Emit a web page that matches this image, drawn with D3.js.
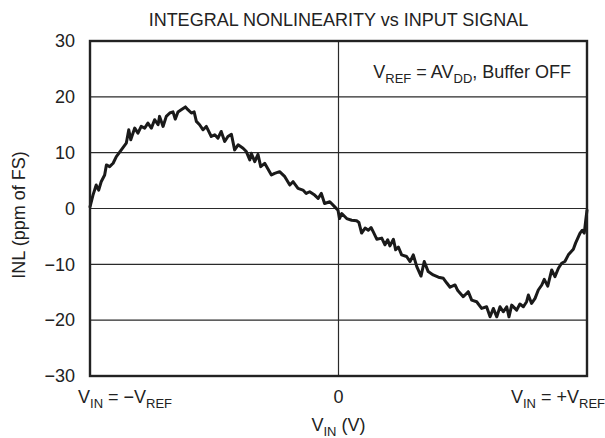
<!DOCTYPE html>
<html>
<head>
<meta charset="utf-8">
<script src="https://cdn.jsdelivr.net/npm/d3@7"></script>
<style>
  html, body { margin: 0; padding: 0; background: #fff; }
  svg { display: block; font-family: "Liberation Sans", Arial, Helvetica, sans-serif; }
</style>
</head>
<body>
<svg id="chart" width="605" height="438"></svg>
<script>
// ---- data (x: normalized input, -1 = -VREF, +1 = +VREF; y: INL in ppm of FS) ----
const xValues = [
  -1.000, -0.988, -0.975, -0.965, -0.955, -0.941, -0.934, -0.921, -0.907, -0.894,
  -0.874, -0.854, -0.844, -0.836, -0.820, -0.807, -0.794, -0.780, -0.767, -0.753,
  -0.740, -0.726, -0.720, -0.706, -0.693, -0.679, -0.666, -0.657, -0.646, -0.633,
  -0.616, -0.606, -0.592, -0.581, -0.572, -0.559, -0.545, -0.532, -0.512, -0.498,
  -0.485, -0.472, -0.458, -0.445, -0.431, -0.418, -0.404, -0.384, -0.371, -0.357,
  -0.351, -0.337, -0.324, -0.313, -0.297, -0.270, -0.257, -0.237, -0.216, -0.196,
  -0.183, -0.163, -0.143, -0.130, -0.116, -0.096, -0.082, -0.069, -0.056, -0.035,
  -0.015, -0.002, 0.004, 0.013, 0.033, 0.053, 0.073, 0.082, 0.093, 0.107,
  0.120, 0.131, 0.140, 0.154, 0.174, 0.187, 0.198, 0.207, 0.221, 0.230,
  0.241, 0.254, 0.274, 0.288, 0.301, 0.315, 0.332, 0.345, 0.361, 0.381,
  0.402, 0.422, 0.435, 0.449, 0.469, 0.480, 0.502, 0.522, 0.536, 0.556,
  0.576, 0.596, 0.610, 0.623, 0.637, 0.650, 0.663, 0.677, 0.686, 0.697,
  0.717, 0.730, 0.744, 0.757, 0.764, 0.777, 0.791, 0.804, 0.818, 0.828,
  0.842, 0.858, 0.871, 0.885, 0.898, 0.911, 0.925, 0.945, 0.954, 0.972,
  0.981, 0.989, 0.995, 1.000
];
const inlValues = [
  0.3, 2.4, 4.2, 3.3, 4.8, 6.0, 7.8, 7.5, 8.1, 9.3,
  10.5, 11.7, 14.1, 12.3, 14.4, 13.5, 14.7, 14.4, 15.3, 14.4,
  15.9, 15.0, 16.5, 14.7, 16.5, 17.1, 17.3, 16.0, 17.3, 17.7,
  18.2, 17.7, 17.1, 17.3, 15.6, 15.0, 14.1, 14.7, 12.9, 13.2,
  12.6, 13.8, 12.0, 12.9, 13.3, 10.5, 11.4, 10.8, 10.2, 8.7,
  9.9, 8.4, 9.7, 7.5, 8.1, 6.0, 6.3, 6.6, 5.7, 4.2,
  4.8, 3.6, 3.3, 2.7, 3.0, 2.4, 1.8, 2.7, 0.9, 1.2,
  0.3, -0.3, -1.8, -0.9, -1.8, -2.1, -2.2, -2.5, -4.4, -3.5,
  -3.9, -3.4, -4.2, -5.5, -5.3, -6.5, -5.6, -6.7, -5.5, -7.4,
  -6.9, -8.3, -8.6, -9.5, -8.3, -10.4, -12.1, -9.5, -11.3, -11.9,
  -12.3, -12.5, -13.3, -14.1, -13.7, -14.7, -15.8, -14.9, -16.4, -16.7,
  -17.9, -17.6, -19.4, -17.9, -19.4, -17.6, -18.5, -17.6, -19.4, -17.3,
  -18.2, -17.1, -17.6, -16.7, -15.5, -17.0, -16.1, -14.6, -13.7, -12.7,
  -13.9, -11.0, -12.2, -10.7, -9.8, -9.5, -8.3, -7.3, -6.2, -4.4,
  -3.9, -4.4, -2.1, -0.3
];
const yTicks = [-30, -20, -10, 0, 10, 20, 30];
const xTickLabels = [
  { v: -1, main: "V", sub: "IN", rest: " = \u2212V", sub2: "REF" },
  { v: 0, main: "0" },
  { v: 1, main: "V", sub: "IN", rest: " = +V", sub2: "REF" }
];
const titleText = "INTEGRAL NONLINEARITY vs INPUT SIGNAL";
const yTitle = "INL (ppm of FS)";

// ---- layout ----
const FS = 18, SUB = 13;
const svg = d3.select("#chart");
const L = 90, R = 587, T = 41, B = 376;
const x = d3.scaleLinear().domain([-1, 1]).range([L, R]);
const y = d3.scaleLinear().domain([-30, 30]).range([B, T]);

// grid lines
svg.append("g").selectAll("line").data(yTicks.filter(d => d > -30 && d < 30)).join("line")
  .attr("x1", L).attr("x2", R)
  .attr("y1", d => y(d)).attr("y2", d => y(d))
  .attr("stroke", "#2a2a2a").attr("stroke-width", 1.2);
svg.append("line")
  .attr("x1", x(0)).attr("x2", x(0)).attr("y1", T).attr("y2", B)
  .attr("stroke", "#2a2a2a").attr("stroke-width", 1.2);

// data line
const pts = xValues.map((d, i) => [d, inlValues[i]]);
svg.append("path").datum(pts)
  .attr("fill", "none").attr("stroke", "#1a1a1a").attr("stroke-width", 3)
  .attr("stroke-linejoin", "round").attr("stroke-linecap", "round")
  .attr("d", d3.line().x(d => x(d[0])).y(d => y(d[1])));

// frame
svg.append("rect").attr("x", L).attr("y", T).attr("width", R - L).attr("height", B - T)
  .attr("fill", "none").attr("stroke", "#222").attr("stroke-width", 2.4);

// y axis tick labels
const yAxis = d3.axisLeft(y).tickValues(yTicks).tickSize(0).tickPadding(15)
  .tickFormat(d => d < 0 ? "\u2212" + Math.abs(d) : d);
const ya = svg.append("g").attr("transform", `translate(${L},0)`).call(yAxis);
ya.select(".domain").remove();
ya.selectAll("text").attr("font-size", FS).attr("fill", "#222")
  .attr("font-family", "Liberation Sans, Arial, sans-serif");

// x tick labels
const xl = svg.append("g").attr("font-size", FS).attr("fill", "#222");
xTickLabels.forEach(t => {
  const txt = xl.append("text").attr("y", 403);
  if (t.v === -1) txt.attr("x", x(-1) - 12).attr("text-anchor", "start");
  else if (t.v === 1) txt.attr("x", 605).attr("text-anchor", "end");
  else txt.attr("x", x(t.v)).attr("text-anchor", "middle");
  txt.append("tspan").text(t.main);
  if (t.sub) {
    txt.append("tspan").attr("font-size", SUB).attr("dy", 5).text(t.sub);
    txt.append("tspan").attr("dy", -5).text(t.rest);
    txt.append("tspan").attr("font-size", SUB).attr("dy", 5).text(t.sub2);
  }
});

// x axis title
const xt = svg.append("text").attr("x", x(0)).attr("y", 431).attr("text-anchor", "middle")
  .attr("font-size", FS).attr("fill", "#222");
xt.append("tspan").text("V");
xt.append("tspan").attr("font-size", SUB).attr("dy", 5).text("IN");
xt.append("tspan").attr("dy", -5).text(" (V)");

// y axis title
svg.append("text").attr("transform", `translate(25,215) rotate(-90)`)
  .attr("text-anchor", "middle").attr("font-size", FS).attr("fill", "#222").text(yTitle);

// chart title
svg.append("text").attr("x", x(0)).attr("y", 26).attr("text-anchor", "middle")
  .attr("font-size", FS).attr("fill", "#222").text(titleText);

// annotation
const an = svg.append("text").attr("x", 571).attr("y", 78).attr("text-anchor", "end")
  .attr("font-size", FS).attr("fill", "#222");
an.append("tspan").text("V");
an.append("tspan").attr("font-size", SUB).attr("dy", 5).text("REF");
an.append("tspan").attr("dy", -5).text(" = AV");
an.append("tspan").attr("font-size", SUB).attr("dy", 5).text("DD");
an.append("tspan").attr("dy", -5).text(", Buffer OFF");
</script>
</body>
</html>
